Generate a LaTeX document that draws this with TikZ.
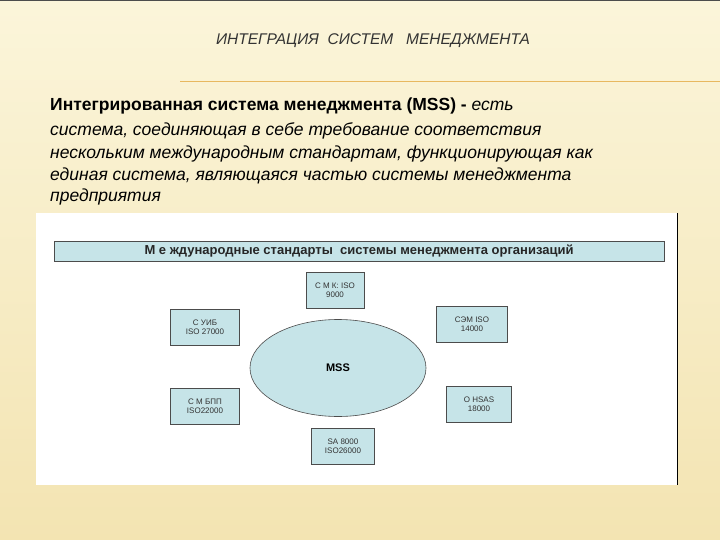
\documentclass[tikz,border=0pt]{standalone}
\usepackage{fontspec}
\setmainfont{Liberation Sans}
\usetikzlibrary{shapes.geometric}
\definecolor{bgtop}{HTML}{FBF5DA}
\definecolor{bgbot}{HTML}{F3E4B2}
\definecolor{boxc}{HTML}{C6E4E8}
\definecolor{sep}{HTML}{E8B860}
\tikzset{
  stdbox/.style={draw=black!70, fill=boxc, line width=0.6pt, minimum height=36pt, inner sep=1pt, align=center, font=\fontsize{8}{9.5}\selectfont, text=black!80},
  bodytxt/.style={anchor=west, inner sep=0pt, font=\fontsize{17.5}{20}\selectfont\itshape}
}
\begin{document}
\begin{tikzpicture}[x=1pt,y=-1pt]
\useasboundingbox (0,0) rectangle (720,540);
\shade[top color=bgtop, bottom color=bgbot] (0,0) rectangle (720,540);
\draw[black!70, line width=1pt] (0,0.5) -- (720,0.5);
\draw[sep, line width=1pt] (180,82) -- (720,82);
\node[inner sep=0pt, font=\fontsize{15.5}{18}\selectfont\itshape, text=black!80] (title) at (373,41) {ИНТЕГРАЦИЯ\ \ СИСТЕМ\ \ \ МЕНЕДЖМЕНТА};
\node[bodytxt] (l1) at (50,106) {\upshape\bfseries Интегрированная система менеджмента (MSS) - \mdseries\itshape есть};
\node[bodytxt] (l2) at (50,131) {система, соединяющая в себе требование соответствия};
\node[bodytxt] (l3) at (50,154) {нескольким международным стандартам, функционирующая как};
\node[bodytxt] (l4) at (50,176) {единая система, являющаяся частью системы менеджмента};
\node[bodytxt] (l5) at (50,197) {предприятия};
\fill[white] (36,213) rectangle (677,485);
\draw[black, line width=1pt] (677,213) -- (677,485);
\node[draw=black!70, fill=boxc, line width=0.8pt, minimum width=610pt, minimum height=20pt, inner sep=0pt, font=\fontsize{13}{15}\selectfont\bfseries, text=black!85] (hdr) at (359,251) {М е ждународные стандарты \ системы менеджмента организаций};
\node[ellipse, draw=black!70, fill=boxc, line width=0.6pt, minimum width=176pt, minimum height=97pt, font=\fontsize{11}{13}\selectfont\bfseries] (mss) at (338,368) {MSS};
\node[stdbox, minimum width=58pt] (smk) at (335,290) {С М К: ISO\\9000};
\node[stdbox, minimum width=69pt] (suib) at (205,327) {С УИБ\\ISO 27000};
\node[stdbox, minimum width=71pt] (sem) at (472,324) {СЭМ ISO\\14000};
\node[stdbox, minimum width=69pt] (smbpp) at (205,406) {С М БПП\\ISO22000};
\node[stdbox, minimum width=65pt] (ohsas) at (479,404) {O HSAS\\18000};
\node[stdbox, minimum width=63pt] (sa) at (343,446) {SA 8000\\ISO26000};
\end{tikzpicture}
\end{document}
